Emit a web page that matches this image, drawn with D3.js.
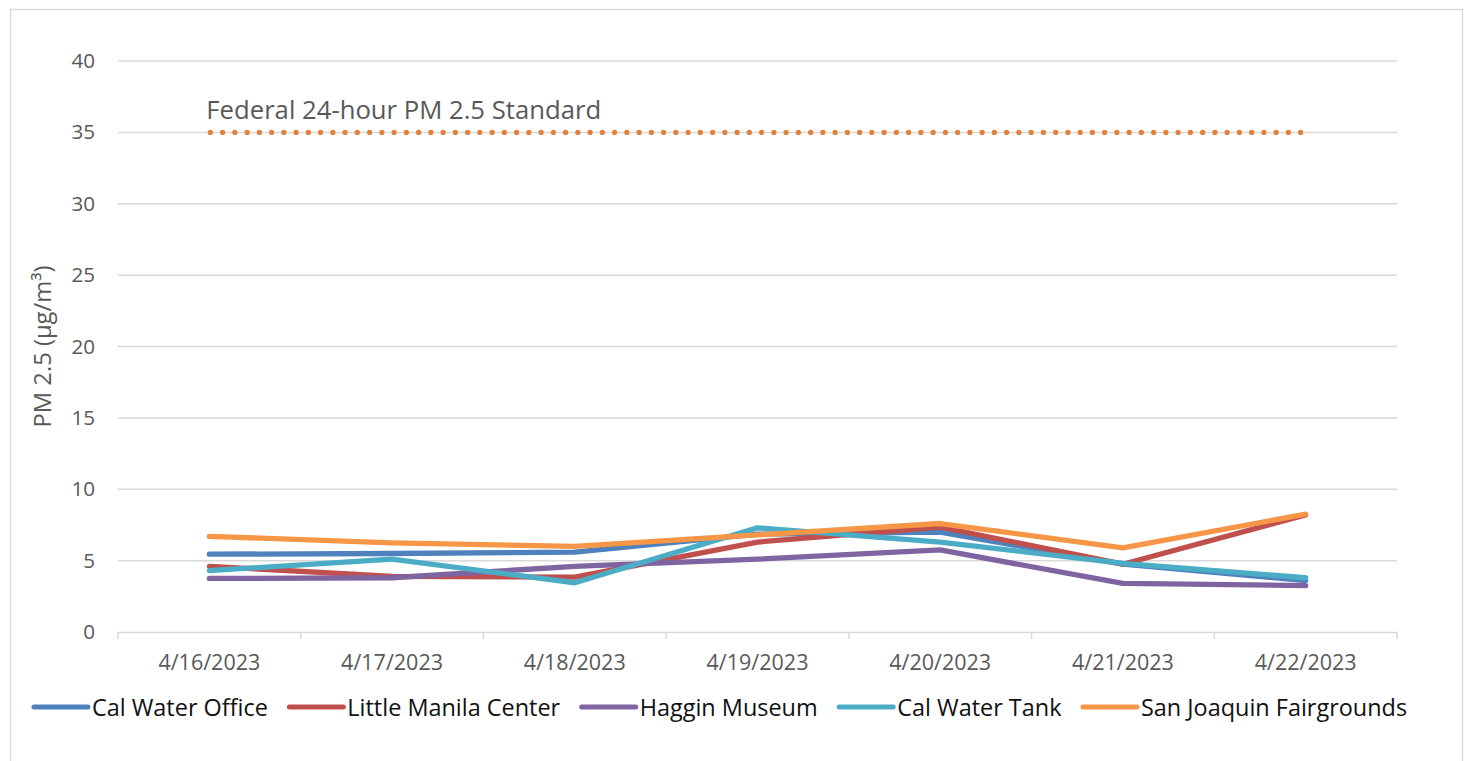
<!DOCTYPE html>
<html>
<head>
<meta charset="utf-8">
<script src="https://cdn.jsdelivr.net/npm/d3@7"></script>
<style>
  html, body { margin: 0; padding: 0; background: #fff; }
  svg { display: block; }
  text { font-family: "Open Sans", Lato, sans-serif; }
</style>
</head>
<body>
<svg id="chart" width="1468" height="761"></svg>
<script>
// ---- data ----
const categories = ["4/16/2023", "4/17/2023", "4/18/2023", "4/19/2023", "4/20/2023", "4/21/2023", "4/22/2023"];
const seriesNames = ["Cal Water Office", "Little Manila Center", "Haggin Museum", "Cal Water Tank", "San Joaquin Fairgrounds"];
const calWaterOffice      = [5.45, 5.5, 5.6, 6.85, 7.0, 4.75, 3.6];
const littleManilaCenter  = [4.6, 3.9, 3.85, 6.3, 7.35, 4.75, 8.2];
const hagginMuseum        = [3.75, 3.8, 4.6, 5.1, 5.75, 3.4, 3.25];
const calWaterTank        = [4.3, 5.1, 3.45, 7.3, 6.3, 4.8, 3.8];
const sanJoaquinFair      = [6.7, 6.25, 6.0, 6.8, 7.6, 5.9, 8.25];
const seriesColors = ["#4F81BD", "#C0504D", "#8064A2", "#4BACC6", "#F79646"];
const standardValue = 35;
const standardLabel = "Federal 24-hour PM 2.5 Standard";
const yTicks = [0, 5, 10, 15, 20, 25, 30, 35, 40];
const yTitle = "PM 2.5 (μg/m³)";

const seriesValues = [calWaterOffice, littleManilaCenter, hagginMuseum, calWaterTank, sanJoaquinFair];

// ---- helpers ----
function fitSize(sel, targetWidth) {
  const node = sel.node();
  const s = parseFloat(sel.attr("font-size"));
  const w = node.getComputedTextLength();
  const ns = s * targetWidth / w;
  sel.attr("font-size", ns);
  return ns;
}

// ---- layout ----
const svg = d3.select("#chart");
const plot = { left: 118, right: 1397, top: 61, bottom: 632 };

// chart border
svg.append("rect").attr("x", 10.5).attr("y", 9.5).attr("width", 1452).attr("height", 770)
  .attr("fill", "#fff").attr("stroke", "#D9D9D9").attr("stroke-width", 1.5);

const x = d3.scaleBand().domain(categories).range([plot.left, plot.right]).padding(0);
const y = d3.scaleLinear().domain([0, 40]).range([plot.bottom, plot.top]);
const cx = d => x(d) + x.bandwidth() / 2;

// gridlines
svg.append("g").selectAll("line").data(yTicks.filter(t => t > 0)).join("line")
  .attr("x1", plot.left).attr("x2", plot.right)
  .attr("y1", d => y(d)).attr("y2", d => y(d))
  .attr("stroke", "#D9D9D9").attr("stroke-width", 1.5);

// y axis labels
const yAxis = svg.append("g").attr("transform", `translate(${plot.left},0)`)
  .call(d3.axisLeft(y).tickValues(yTicks).tickSize(0).tickPadding(23));
yAxis.select(".domain").remove();
yAxis.selectAll("text").attr("font-size", 18).attr("fill", "#595959")
  .attr("font-family", "'Open Sans', sans-serif");
const yTickSize = fitSize(yAxis.selectAll("text").filter(d => d === 40), 23.6);
yAxis.selectAll("text").attr("font-size", yTickSize);

// x axis
const xAxis = svg.append("g").attr("transform", `translate(0,${plot.bottom})`)
  .call(d3.axisBottom(x).tickSize(0).tickPadding(23));
xAxis.select(".domain").attr("stroke", "#D9D9D9").attr("stroke-width", 1.5);
xAxis.selectAll("text").attr("font-size", 18).attr("fill", "#595959")
  .attr("font-family", "'Open Sans', sans-serif");
const xTickSize = fitSize(xAxis.selectAll("text").filter((d, i) => i === 0), 102);
xAxis.selectAll("text").attr("font-size", xTickSize);
// category boundary ticks
const bounds = categories.map(c => x(c)).concat([plot.right]);
svg.append("g").selectAll("line").data(bounds).join("line")
  .attr("x1", d => d).attr("x2", d => d)
  .attr("y1", plot.bottom).attr("y2", plot.bottom + 7)
  .attr("stroke", "#D9D9D9").attr("stroke-width", 1.5);

// y title
const yt = svg.append("text")
  .attr("transform", `translate(51,${(plot.top + plot.bottom) / 2}) rotate(-90)`)
  .attr("text-anchor", "middle").attr("font-size", 20).attr("fill", "#595959")
  .text(yTitle);
fitSize(yt, 162);

// standard line (dotted)
const sx1 = cx(categories[0]) + 1, sx2 = cx(categories[categories.length - 1]) - 5;
const gap = (sx2 - sx1) / 89;
svg.append("line")
  .attr("x1", sx1).attr("x2", sx2 + 0.5)
  .attr("y1", y(standardValue)).attr("y2", y(standardValue))
  .attr("stroke", "#E3803A").attr("stroke-width", 5.2)
  .attr("stroke-linecap", "round").attr("stroke-dasharray", `0 ${gap}`);

const st = svg.append("text").attr("x", cx(categories[0]) - 3).attr("y", y(standardValue) - 13)
  .attr("font-size", 23).attr("fill", "#595959").text(standardLabel);
fitSize(st, 395);

// series lines
const line = d3.line().x((d, i) => cx(categories[i])).y(d => y(d));
seriesValues.forEach((vals, si) => {
  svg.append("path").datum(vals)
    .attr("d", line).attr("fill", "none")
    .attr("stroke", seriesColors[si]).attr("stroke-width", 5.3)
    .attr("stroke-linecap", "round").attr("stroke-linejoin", "round");
});

// legend
const legendY = 707;
const lg = svg.append("g");
const probe = svg.append("text").attr("font-size", 22).text(seriesNames[0]);
const legendSize = fitSize(probe, 176);
probe.remove();
let lx = 0;
seriesNames.forEach((name, i) => {
  const g = lg.append("g").attr("transform", `translate(${lx},0)`);
  g.append("line").attr("x1", 0).attr("x2", 54).attr("y1", legendY).attr("y2", legendY)
    .attr("stroke", seriesColors[i]).attr("stroke-width", 5).attr("stroke-linecap", "round");
  const t = g.append("text").attr("x", 58).attr("y", legendY + 8.5)
    .attr("font-size", legendSize).attr("fill", "#111").text(name);
  const w = t.node().getComputedTextLength();
  lx += 58 + w + 21.5;
});
const totalW = lx - 21.5;
lg.attr("transform", `translate(${720.5 - totalW / 2},0)`);
</script>
</body>
</html>
